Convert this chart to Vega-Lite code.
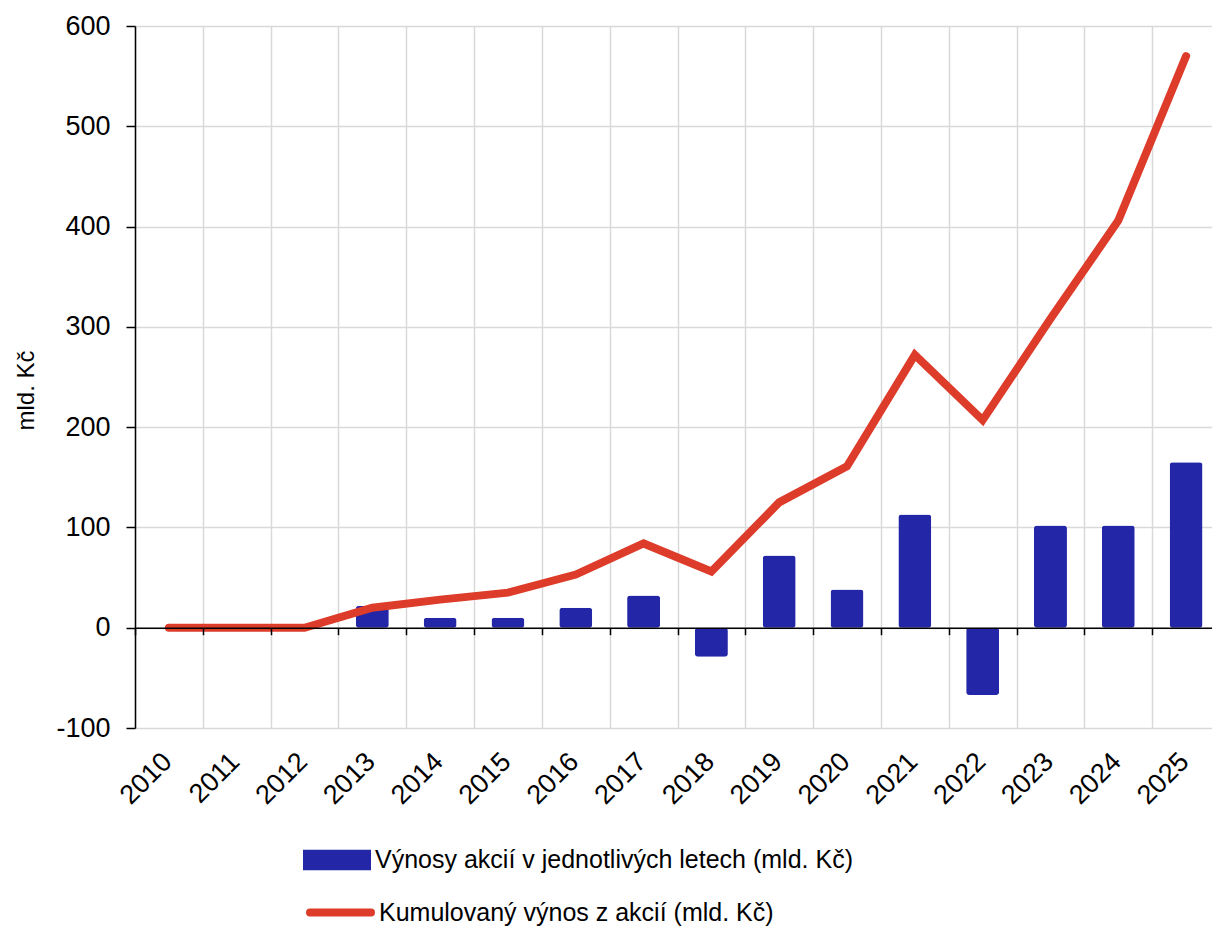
{
  "$schema": "https://vega.github.io/schema/vega-lite/v6.json",
  "autosize": "none",
  "width": 1085,
  "height": 702,
  "padding": {"left": 135, "top": 26, "right": 0, "bottom": 198},
  "background": "white",
  "config": {
    "view": {"stroke": null},
    "font": "Liberation Sans",
    "axis": {"labelFont": "Liberation Sans", "titleFont": "Liberation Sans", "labelColor": "black", "titleColor": "black", "gridColor": "#d9d9d9", "gridWidth": 1.5},
    "legend": {"labelFont": "Liberation Sans", "labelColor": "black", "labelFontSize": 25, "padding": 0, "labelOffset": 4, "labelLimit": 0}
  },
  "data": {
    "values": [
      {"year": "2010", "vynos": 0, "kum": 0},
      {"year": "2011", "vynos": 0, "kum": 0},
      {"year": "2012", "vynos": 0, "kum": 0},
      {"year": "2013", "vynos": 22, "kum": 20},
      {"year": "2014", "vynos": 10, "kum": 28},
      {"year": "2015", "vynos": 10, "kum": 35},
      {"year": "2016", "vynos": 20, "kum": 53},
      {"year": "2017", "vynos": 32, "kum": 84},
      {"year": "2018", "vynos": -29, "kum": 56},
      {"year": "2019", "vynos": 72, "kum": 125},
      {"year": "2020", "vynos": 38, "kum": 161},
      {"year": "2021", "vynos": 113, "kum": 272},
      {"year": "2022", "vynos": -67, "kum": 207},
      {"year": "2023", "vynos": 102, "kum": 308},
      {"year": "2024", "vynos": 102, "kum": 406},
      {"year": "2025", "vynos": 165, "kum": 570}
    ]
  },
  "resolve": {"axis": {"x": "independent"}},
  "layer": [
    {
      "mark": {"type": "bar", "width": 33, "cornerRadius": 3},
      "encoding": {
        "x": {
          "field": "year", "type": "ordinal",
          "scale": {"paddingInner": 0, "paddingOuter": 0},
          "axis": {"orient": "bottom", "offset": -100.3, "labels": false, "ticks": true, "tickSize": 7, "tickColor": "black", "tickWidth": 1.5, "tickBand": "extent", "domain": true, "domainColor": "black", "domainWidth": 1.5, "grid": false, "title": null, "zindex": 1}
        },
        "y": {
          "field": "vynos", "type": "quantitative",
          "scale": {"domain": [-100, 600], "nice": false},
          "axis": {"values": [-100, 0, 100, 200, 300, 400, 500, 600], "labelExpr": "datum.value + ''", "title": "mld. Kč", "titleFontSize": 24, "titleFontWeight": "normal", "titleAngle": -90, "titleAlign": "center", "titleBaseline": "middle", "titleX": -109, "titleY": 364, "labelFontSize": 27, "labelPadding": 16, "tickSize": 9, "tickColor": "black", "tickWidth": 1.5, "domainColor": "black", "domainWidth": 1.5, "grid": true}
        },
        "fill": {
          "datum": "Výnosy akcií v jednotlivých letech (mld. Kč)",
          "scale": {"range": ["#2326a6"]},
          "legend": {"title": null, "orient": "none", "legendX": 168, "legendY": 800, "symbolType": "M-1,-0.3H1V0.3H-1Z", "symbolSize": 4624, "symbolStrokeWidth": 0, "symbolOpacity": 1}
        }
      }
    },
    {
      "mark": {"type": "line", "strokeWidth": 8, "strokeCap": "round", "strokeJoin": "miter"},
      "encoding": {
        "x": {
          "field": "year", "type": "ordinal",
          "axis": {"orient": "bottom", "labelAngle": -45, "labelFontSize": 27, "labelPadding": 20, "labelOffset": -11, "ticks": false, "tickBand": "extent", "domain": false, "grid": true, "title": null, "zindex": 0}
        },
        "y": {"field": "kum", "type": "quantitative"},
        "stroke": {
          "datum": "Kumulovaný výnos z akcií (mld. Kč)",
          "scale": {"range": ["#de3c2b"]},
          "legend": {"title": null, "orient": "none", "legendX": 171, "legendY": 852, "symbolType": "stroke", "symbolSize": 3721, "symbolStrokeWidth": 8, "encode": {"symbols": {"update": {"strokeCap": {"value": "round"}}}}}
        }
      }
    }
  ]
}
